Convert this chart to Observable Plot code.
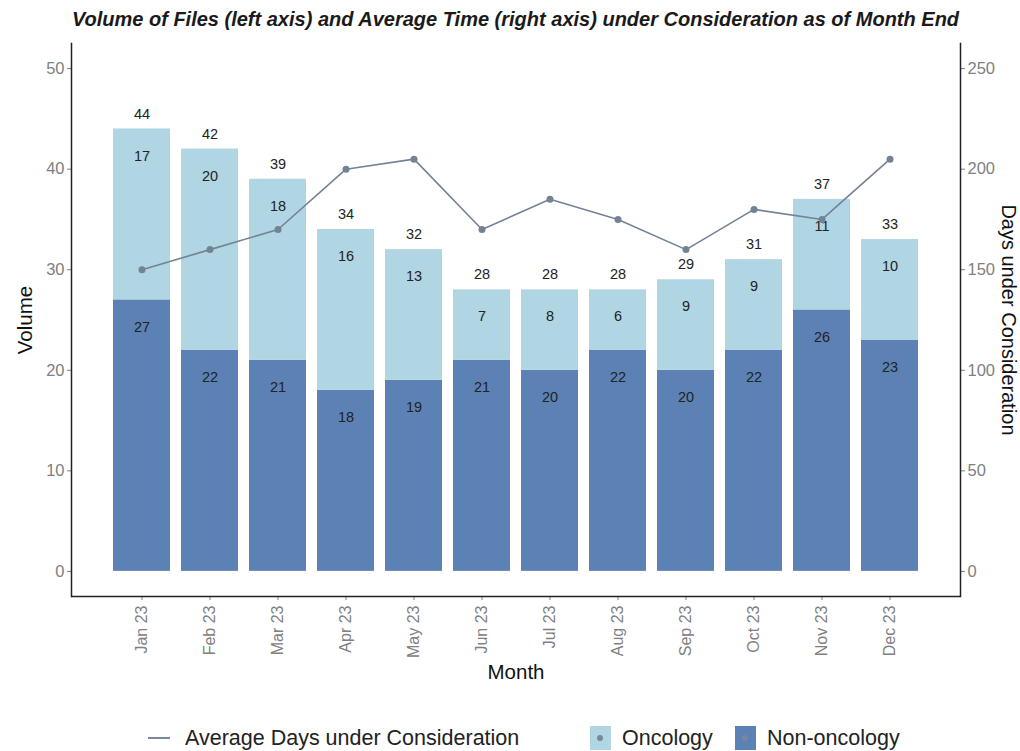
<!DOCTYPE html>
<html>
<head>
<meta charset="utf-8">
<script src="https://cdn.jsdelivr.net/npm/d3@7"></script>
<script src="https://cdn.jsdelivr.net/npm/@observablehq/plot@0.6"></script>
<style>
  html, body { margin: 0; padding: 0; background: #ffffff; }
  body { width: 1020px; height: 751px; overflow: hidden; font-family: "Liberation Sans", Arial, sans-serif; }
  #title { height: 36px; box-sizing: border-box; padding: 8px 60px 0 71px; text-align: center; line-height: 23px;
           font-weight: bold; font-style: italic; font-size: 20px; color: #1a1a1a; white-space: nowrap; }
  #chart svg { display: block; }
  #legend { position: relative; height: 51px; font-size: 21.5px; color: #222; }
  .lg { position: absolute; top: 26px; display: flex; align-items: center; height: 24px; }
  .sw { width: 21px; height: 24px; display: inline-block; position: relative; margin-right: 11px; }
  .sw::after { content: ""; position: absolute; left: 7px; top: 9px; width: 6px; height: 6px; border-radius: 50%; background: #7a8798; }
  .ln { width: 22px; height: 2px; background: #7a8798; display: inline-block; margin-right: 15px; }
</style>
</head>
<body>
<div id="title">Volume of Files (left axis) and Average Time (right axis) under Consideration as of Month End</div>
<div id="chart"></div>
<div id="legend">
  <div class="lg" style="left:148px"><span class="ln"></span>Average Days under Consideration</div>
  <div class="lg" style="left:590px"><span class="sw" style="background:#b0d5e3"></span>Oncology</div>
  <div class="lg" style="left:735px"><span class="sw" style="background:#5b81b5"></span>Non-oncology</div>
</div>
<script>
const months = ["Jan 23","Feb 23","Mar 23","Apr 23","May 23","Jun 23","Jul 23","Aug 23","Sep 23","Oct 23","Nov 23","Dec 23"];
const oncology = [17, 20, 18, 16, 13, 7, 8, 6, 9, 9, 11, 10];
const nonOncology = [27, 22, 21, 18, 19, 21, 20, 22, 20, 22, 26, 23];
const totals = [44, 42, 39, 34, 32, 28, 28, 28, 29, 31, 37, 33];
const avgDays = [150, 160, 170, 200, 205, 170, 185, 175, 160, 180, 175, 205];
const volumeTicks = [0, 10, 20, 30, 40, 50];
const daysTicks = [0, 50, 100, 150, 200, 250];
const daysPerVolume = 5; // secondary axis ratio

const rows = months.map((m, i) => ({
  month: m,
  onc: oncology[i],
  non: nonOncology[i],
  total: totals[i],
  days: avgDays[i]
}));

const LIGHT = "#b0d5e3", DARK = "#5b81b5", LINE = "#748296";

const chart = Plot.plot({
  width: 1020,
  height: 664,
  marginLeft: 71,
  marginRight: 60,
  marginTop: 7,
  marginBottom: 104,
  style: { fontFamily: "Liberation Sans, Arial, sans-serif", fontSize: "13px", background: "white" },
  x: { domain: months, paddingInner: 0.167, paddingOuter: 0.583 },
  y: { domain: [-2.5, 52.5] },
  marks: [
    Plot.barY(rows, { x: "month", y1: 0, y2: "non", fill: DARK }),
    Plot.barY(rows, { x: "month", y1: "non", y2: "total", fill: LIGHT }),
    Plot.text(rows, { x: "month", y: "total", text: d => String(d.total), dy: -15, fill: "#222", fontSize: 14.5 }),
    Plot.text(rows, { x: "month", y: "total", text: d => String(d.onc), dy: 27, fill: "#222", fontSize: 14.5 }),
    Plot.text(rows, { x: "month", y: "non", text: d => String(d.non), dy: 27, fill: "#222", fontSize: 14.5 }),
    Plot.line(rows, { x: "month", y: d => d.days / daysPerVolume, stroke: LINE, strokeWidth: 1.6 }),
    Plot.dot(rows, { x: "month", y: d => d.days / daysPerVolume, fill: LINE, r: 3.5 }),
    Plot.axisY({ anchor: "left", ticks: volumeTicks, tickSize: 4, tickPadding: 3, label: null, color: "#808080", fontSize: 16.5 }),
    Plot.axisY({ anchor: "right", ticks: daysTicks.map(d => d / daysPerVolume), tickFormat: d => String(Math.round(d * daysPerVolume)), tickSize: 4, tickPadding: 3, label: null, color: "#808080", fontSize: 16.5 }),
    Plot.axisX({ tickRotate: -90, tickSize: 4, tickPadding: 5, label: null, color: "#808080", fontSize: 16 }),
    Plot.ruleY([-2.5], { stroke: "#222", strokeWidth: 1.5 }),
    Plot.frame({ anchor: "left", stroke: "#222", strokeWidth: 1.5 }),
    Plot.frame({ anchor: "right", stroke: "#222", strokeWidth: 1.5 }),
    Plot.text(["Volume"], { frameAnchor: "left", textAnchor: "middle", dx: -46, rotate: -90, fontSize: 20.5, fill: "#111" }),
    Plot.text(["Days under Consideration"], { frameAnchor: "right", textAnchor: "middle", dx: 48, rotate: 90, fontSize: 20, fill: "#111" }),
    Plot.text(["Month"], { frameAnchor: "bottom", dy: 82, fontSize: 20.5, fill: "#111" })
  ]
});
document.getElementById("chart").appendChild(chart);
</script>
</body>
</html>
